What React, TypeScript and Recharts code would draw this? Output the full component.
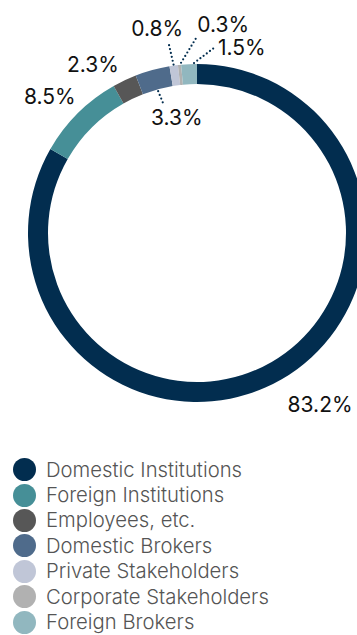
import React from 'react';
import { PieChart, Pie, Cell, Legend } from 'recharts';

const categories = [
  'Domestic Institutions',
  'Foreign Institutions',
  'Employees, etc.',
  'Domestic Brokers',
  'Private Stakeholders',
  'Corporate Stakeholders',
  'Foreign Brokers',
];
const values = [83.2, 8.5, 2.3, 3.3, 0.8, 0.3, 1.5];
const labels = ['83.2%', '8.5%', '2.3%', '3.3%', '0.8%', '0.3%', '1.5%'];
const colors = ['#022d4f', '#468f97', '#575757', '#4f6b8b', '#c0c6d7', '#b1b1b1', '#91b7bf'];

// label placement (style): radius & angle offset from the slice's mid angle
const labelR = [211, 201, 198, 117, 208, 210, 191];
const labelDA = [5.6, 2.2, 6.3, -5.4, 3.1, -13.1, -16.3];
// leader lines: [r1, angleOffset1, r2, angleOffset2] or null
const leaders: (number[] | null)[] = [
  null,
  null,
  null,
  [147, 0, 132, -0.8],
  [170, 0, 193, 0.6],
  [171, -0.6, 195, -5.7],
  [170, -1.7, 186, -8],
];

const data = categories.map((name, i) => ({ name, value: values[i] }));

const RAD = Math.PI / 180;
const polar = (cx: number, cy: number, r: number, a: number) => ({
  x: cx + r * Math.cos(-a * RAD),
  y: cy + r * Math.sin(-a * RAD),
});

const renderLabel = (props: any) => {
  const { cx, cy, midAngle, index } = props;
  const p = polar(cx, cy, labelR[index], midAngle + labelDA[index]);
  const l = leaders[index];
  let line = null;
  if (l) {
    const a = polar(cx, cy, l[0], midAngle + l[1]);
    const b = polar(cx, cy, l[2], midAngle + l[3]);
    line = (
      <line
        x1={a.x}
        y1={a.y}
        x2={b.x}
        y2={b.y}
        stroke="#022d4f"
        strokeWidth={2.2}
        strokeDasharray="0 4"
        strokeLinecap="round"
      />
    );
  }
  return (
    <g key={`lbl-${index}`}>
      {line}
      <text
        x={p.x}
        y={p.y}
        textAnchor="middle"
        dominantBaseline="central"
        fill="#111111"
        fontFamily="Inter, 'Noto Sans', sans-serif"
        fontSize={21}
        fontWeight={400}
      >
        {labels[index]}
      </text>
    </g>
  );
};

const renderLegend = () => (
  <div style={{ paddingLeft: 13 }}>
    {categories.map((c, i) => (
      <div
        key={c}
        style={{ display: 'flex', alignItems: 'center', height: 25.4 }}
      >
        <svg width={23} height={23} style={{ flex: 'none' }}>
          <circle cx={11.5} cy={11.5} r={11.5} fill={colors[i]} />
        </svg>
        <span
          style={{
            marginLeft: 10,
            fontFamily: "Inter, 'Noto Sans', sans-serif",
            fontSize: 20.3,
            fontWeight: 300,
            color: '#555555',
            lineHeight: '22px',
            whiteSpace: 'nowrap',
          }}
        >
          {c}
        </span>
      </div>
    ))}
  </div>
);

export default function App() {
  return (
    <div style={{ position: 'absolute', left: 0, top: 0 }}>
      <PieChart width={357} height={635} margin={{ top: 0, right: 0, bottom: 0, left: 0 }}>
        <Pie
          data={data}
          dataKey="value"
          nameKey="name"
          cx={197}
          cy={233}
          innerRadius={149}
          outerRadius={169}
          startAngle={90}
          endAngle={-270}
          stroke="none"
          isAnimationActive={false}
          label={renderLabel}
          labelLine={false}
        >
          {data.map((d, i) => (
            <Cell key={d.name} fill={colors[i]} />
          ))}
        </Pie>
        <Legend
          content={renderLegend}
          verticalAlign="bottom"
          align="left"
          layout="horizontal"
          wrapperStyle={{ left: 0, top: 457, width: 357, height: 178 }}
        />
      </PieChart>
    </div>
  );
}
